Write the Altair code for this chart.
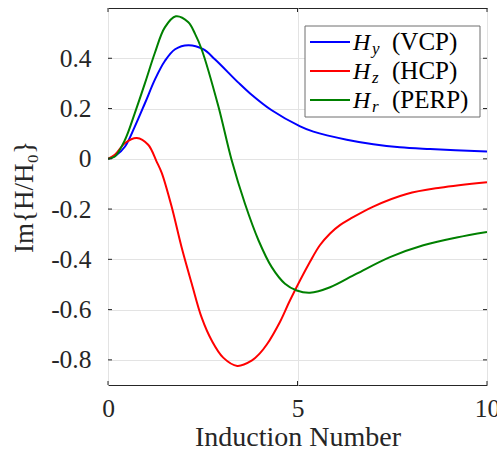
import altair as alt
import pandas as pd

# Imaginary part of the normalised secondary field vs. induction number
hy_x = [0, 0.2, 0.45, 0.71, 0.98, 1.24, 1.5, 1.77, 2.12, 2.51, 2.82, 3.44, 3.75, 4.32, 5.07, 5.42, 6.3, 7.0, 7.7, 8.5, 10]
hy_v = [0, 0.012, 0.049, 0.129, 0.223, 0.316, 0.389, 0.436, 0.452, 0.436, 0.396, 0.303, 0.26, 0.193, 0.129, 0.108, 0.076, 0.058, 0.046, 0.039, 0.029]

hz_x = [0, 0.18, 0.45, 0.76, 1.06, 1.28, 1.42, 1.68, 1.94, 2.21, 2.47, 2.74, 3.04, 3.41, 3.8, 4.0, 4.19, 4.54, 4.8, 5.33, 5.59, 5.86, 6.12, 6.39, 7.0, 7.88, 8.76, 10]
hz_v = [0, 0.016, 0.063, 0.083, 0.056, -0.01, -0.057, -0.191, -0.351, -0.497, -0.631, -0.724, -0.791, -0.824, -0.802, -0.775, -0.739, -0.648, -0.564, -0.41, -0.344, -0.297, -0.264, -0.239, -0.19, -0.14, -0.115, -0.093]

hr_x = [0, 0.18, 0.45, 0.71, 0.98, 1.24, 1.5, 1.79, 2.12, 2.3, 2.47, 2.91, 3.26, 3.61, 3.97, 4.32, 4.67, 4.98, 5.33, 5.86, 6.56, 7.44, 8.32, 9.2, 10]
hr_v = [0, 0.009, 0.076, 0.183, 0.303, 0.423, 0.523, 0.567, 0.543, 0.496, 0.436, 0.21, -0.004, -0.177, -0.324, -0.431, -0.497, -0.524, -0.533, -0.511, -0.457, -0.391, -0.344, -0.313, -0.291]

series_color = ["#0000ff", "#ff0000", "#008000"]
legend_sub = ["y", "z", "r"]
legend_tag = ["(VCP)", "(HCP)", "(PERP)"]

x_ticks = [0, 5, 10]
y_ticks = [-0.8, -0.6, -0.4, -0.2, 0, 0.2, 0.4]

FONT = "Liberation Serif"
INK = "#262626"
W, H = 379, 377

x_scale = alt.Scale(domain=[0, 10], nice=False, zero=False)
y_scale = alt.Scale(domain=[-0.9, 0.6], nice=False, zero=False)

x_axis = alt.Axis(
    values=x_ticks, title="Induction Number", grid=True, gridColor="#e3e3e3",
    ticks=False, domain=False, labelFont=FONT, labelFontSize=25.5, labelColor=INK,
    labelPadding=11, titleFont=FONT, titleFontSize=28, titleFontWeight="normal",
    titleColor=INK, titlePadding=2, labelFlush=False,
)
y_axis = alt.Axis(
    values=y_ticks, title="Im{H/H₀}", grid=True, gridColor="#e3e3e3",
    ticks=False, domain=False, labelFont=FONT, labelFontSize=25.5, labelColor=INK,
    labelPadding=17, titleFont=FONT, titleFontSize=27, titleFontWeight="normal",
    titleColor=INK, titlePadding=12,
    labelExpr="replace(format(datum.value, '.1~f'), '−', '-')",
)

X = lambda f: alt.X(f, scale=x_scale, axis=x_axis)
Y = lambda f: alt.Y(f, scale=y_scale, axis=y_axis)


def curve(xs, vs, color):
    df = pd.DataFrame({"x": xs, "v": vs})
    return alt.Chart(df).mark_line(
        color=color, strokeWidth=2, interpolate="catmull-rom", clip=True
    ).encode(x=X("x:Q"), y=Y("v:Q"))


layers = [
    curve(hy_x, hy_v, series_color[0]),
    curve(hz_x, hz_v, series_color[1]),
    curve(hr_x, hr_v, series_color[2]),
]

# inward tick marks on all four sides of the box
xt = pd.DataFrame({"x": x_ticks})
yt = pd.DataFrame({"v": y_ticks})
for y0, y1 in [(H, H - 4), (0, 4)]:
    layers.append(
        alt.Chart(xt).mark_rule(color=INK, strokeWidth=1).encode(
            x=X("x:Q"), y=alt.value(y0), y2=alt.value(y1),
        )
    )
for x0, x1 in [(0, 4), (W, W - 4)]:
    layers.append(
        alt.Chart(yt).mark_rule(color=INK, strokeWidth=1).encode(
            y=Y("v:Q"), x=alt.value(x0), x2=alt.value(x1),
        )
    )

# legend box
one = pd.DataFrame({"k": [0]})
layers.append(
    alt.Chart(one).mark_rect(fill="white", stroke="#6e6e6e", strokeWidth=1).encode(
        x=alt.value(197), x2=alt.value(372), y=alt.value(18), y2=alt.value(109)
    )
)
for i in range(3):
    ly = 34 + 29 * i
    layers.append(
        alt.Chart(one).mark_rule(color=series_color[i], strokeWidth=2).encode(
            x=alt.value(202), x2=alt.value(242), y=alt.value(ly)
        )
    )
    layers.append(
        alt.Chart(one).mark_text(
            text="H", font=FONT, fontSize=24, fontStyle="italic", color="black",
            align="left", baseline="alphabetic",
        ).encode(x=alt.value(245), y=alt.value(ly + 8))
    )
    layers.append(
        alt.Chart(one).mark_text(
            text=legend_sub[i], font=FONT, fontSize=17, fontStyle="italic", color="black",
            align="left", baseline="alphabetic",
        ).encode(x=alt.value(264), y=alt.value(ly + 12))
    )
    layers.append(
        alt.Chart(one).mark_text(
            text=legend_tag[i], font=FONT, fontSize=25, color="black",
            align="left", baseline="alphabetic",
        ).encode(x=alt.value(284), y=alt.value(ly + 8))
    )

chart = alt.layer(*layers).properties(
    width=W, height=H,
    padding={"left": 108, "top": 8, "right": 10, "bottom": 71},
    autosize=alt.AutoSizeParams(type="none"),
    background="white",
).configure_view(stroke=INK, strokeWidth=1)

chart.save("out.html", embed_options={"renderer": "svg", "actions": False})
